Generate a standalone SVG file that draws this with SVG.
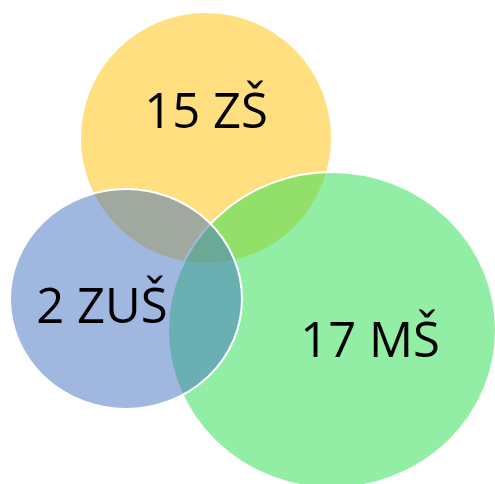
<svg xmlns="http://www.w3.org/2000/svg" width="495" height="484" viewBox="0 0 495 484">
<style>
.c{stroke:#ffffff;stroke-width:2}
.t{font-family:"Open Sans","Noto Sans","Liberation Sans",sans-serif;font-size:49px;fill:#000000;text-anchor:middle}
</style>
<rect width="495" height="484" fill="#ffffff"/>
<g id="zs">
<circle class="c" cx="206" cy="138" r="126" fill="#FFC000" fill-opacity="0.5" stroke="none"/>
</g>
<g id="ms">
<ellipse class="c" cx="332" cy="330" rx="164" ry="158" fill="#38E059" fill-opacity="0.55"/>
</g>
<g id="zus">
<ellipse class="c" cx="126" cy="299" rx="116" ry="110" fill="#4172C1" fill-opacity="0.5"/>
</g>
<g id="labels">
<text class="t" x="206" y="128">15 ZŠ</text>
<text class="t" x="102" y="323">2 ZUŠ</text>
<text class="t" x="370" y="357">17 MŠ</text>
</g>
<g id="connectors"/>
</svg>
